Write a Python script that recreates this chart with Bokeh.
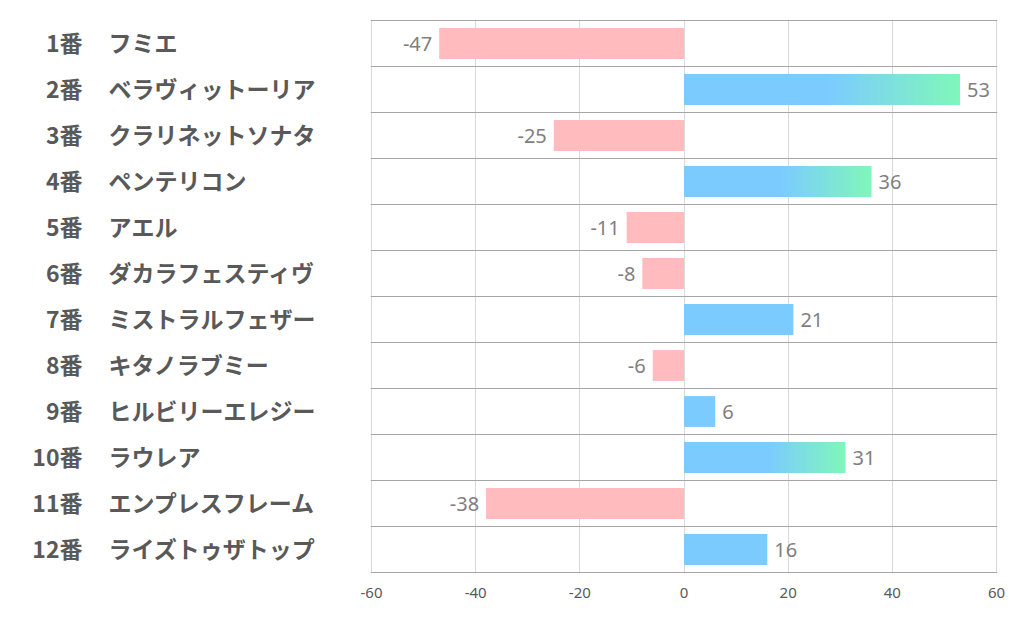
import numpy as np
from bokeh.plotting import figure
from bokeh.layouts import row
from bokeh.models import Range1d, FixedTicker, ColumnDataSource
from bokeh.core.properties import value
from bokeh.embed import file_html
from bokeh.resources import INLINE

numbers = ["1番", "2番", "3番", "4番", "5番", "6番", "7番", "8番", "9番", "10番", "11番", "12番"]
names = ["フミエ", "ベラヴィットーリア", "クラリネットソナタ", "ペンテリコン", "アエル", "ダカラフェスティヴ",
         "ミストラルフェザー", "キタノラブミー", "ヒルビリーエレジー", "ラウレア", "エンプレスフレーム", "ライズトゥザトップ"]
values = [-47, 53, -25, 36, -11, -8, 21, -6, 6, 31, -38, 16]
x_ticks = [-60, -40, -20, 0, 20, 40, 60]
x_tick_labels = ["-60", "-40", "-20", "0", "20", "40", "60"]

BLUE = (124, 203, 255)
GREEN = (127, 247, 186)
PINK = "#ffbbbe"
GRAD_MIN = 30
GRAD_START = 0.52
N_STEPS = 40

n = len(values)
ys = np.arange(n)
vals = np.array(values, dtype=float)

# frame 1px larger than data area on every side so the border grid lines show
px_y = 1.0 / 46.0
px_x = 120.0 / 625.0
y_range = Range1d(n - 0.5 + px_y, -0.5 - px_y)
x_range = Range1d(x_ticks[0] - px_x, x_ticks[-1] + px_x)

TOP, BOTTOM = 19, 45
H = 618
LEFT_W = 340
GAP = 30  # right figure's left border (frame starts at LEFT_W + GAP = 370)

# ---- left label figure ----
pl = figure(width=LEFT_W, height=H, x_range=Range1d(0, LEFT_W), y_range=y_range,
            output_backend="svg", toolbar_location=None,
            x_axis_location=None, y_axis_location=None,
            min_border_left=0, min_border_right=0, min_border_top=TOP, min_border_bottom=BOTTOM)
pl.outline_line_color = None
pl.grid.visible = False
src_l = ColumnDataSource(dict(y=ys, num=numbers, name=names))
pl.text(x=82, y="y", text="num", source=src_l, text_align="right", text_baseline="middle",
        y_offset=-2, text_font=value("Noto Sans CJK JP"), text_font_style="bold",
        text_font_size="23px", text_color="#595959")
pl.text(x=108, y="y", text="name", source=src_l, text_align="left", text_baseline="middle",
        y_offset=-2, text_font=value("Noto Sans CJK JP"), text_font_style="bold",
        text_font_size="23px", text_color="#595959")

# ---- chart figure ----
p = figure(width=1017 - LEFT_W, height=H, x_range=x_range, y_range=y_range,
           output_backend="svg", toolbar_location=None,
           min_border_left=GAP, min_border_right=20, min_border_top=TOP, min_border_bottom=BOTTOM)
p.outline_line_color = None
p.yaxis.visible = False
p.xaxis.ticker = FixedTicker(ticks=x_ticks)
p.xaxis.major_label_overrides = {t: s for t, s in zip(x_ticks, x_tick_labels)}
p.xaxis.axis_line_color = None
p.xaxis.major_tick_line_color = None
p.xaxis.minor_tick_line_color = None
p.xaxis.major_label_standoff = 8
p.xaxis.major_label_text_font = "Noto Sans"
p.xaxis.major_label_text_font_size = "15px"
p.xaxis.major_label_text_color = "#595959"
p.xgrid.ticker = FixedTicker(ticks=x_ticks)
p.xgrid.grid_line_color = "#d9d9d9"
p.ygrid.ticker = FixedTicker(ticks=list(np.arange(n + 1) - 0.5))
p.ygrid.grid_line_color = "#a6a6a6"

neg = vals < 0
p.hbar(y=ys[neg], left=vals[neg], right=0, height=0.67, fill_color=PINK, line_color=None)

pos = vals > 0
blue_hex = "#%02x%02x%02x" % BLUE
solid_right = np.where(vals >= GRAD_MIN, vals * GRAD_START + 0.2, vals)
p.hbar(y=ys[pos], left=0, right=solid_right[pos], height=0.67, fill_color=blue_hex, line_color=None)

gy, gl, gr, gc = [], [], [], []
for yi, v in zip(ys, vals):
    if v >= GRAD_MIN:
        edges = np.linspace(v * GRAD_START, v, N_STEPS + 1)
        for k in range(N_STEPS):
            t = (k + 0.5) / N_STEPS
            c = tuple(int(round(BLUE[j] + (GREEN[j] - BLUE[j]) * t)) for j in range(3))
            gy.append(yi)
            gl.append(edges[k])
            gr.append(min(edges[k + 1] + 0.15, v))
            gc.append("#%02x%02x%02x" % c)
p.hbar(y=gy, left=gl, right=gr, height=0.67, fill_color=gc, line_color=None)

src_v = ColumnDataSource(dict(
    x=vals, y=ys, text=[str(v) for v in values],
    align=["left" if v > 0 else "right" for v in values],
    off=[7 if v > 0 else -7 for v in values],
))
p.text(x="x", y="y", text="text", source=src_v, text_align="align", x_offset="off",
       text_baseline="middle", text_font=value("Noto Sans"), text_font_size="20px",
       text_color="#7f7f7f")

layout = row(pl, p, spacing=0)
open("out.html", "w").write(file_html(layout, INLINE))
